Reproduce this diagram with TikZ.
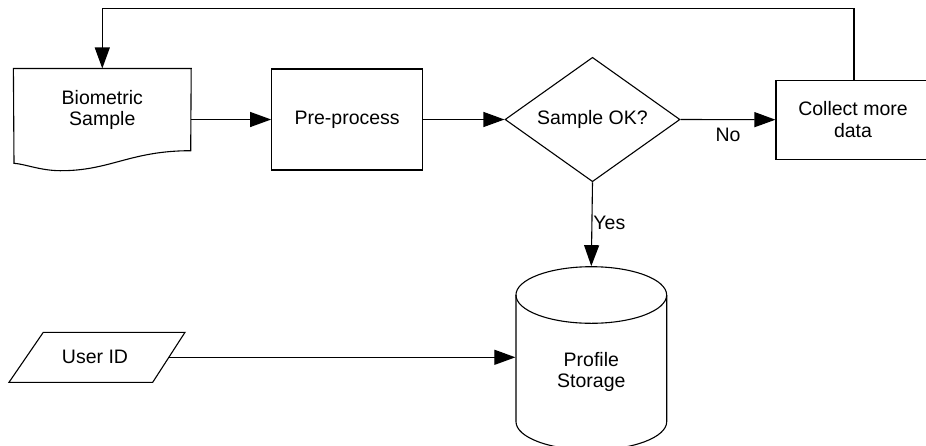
\documentclass[tikz,border=0pt]{standalone}
\usepackage{fontspec}
\setmainfont{Liberation Sans}
\usetikzlibrary{shapes.geometric,arrows.meta}
\begin{document}
\begin{tikzpicture}[x=1pt,y=-1pt,
  line width=1.1pt,
  every node/.style={font=\fontsize{19.5}{21.5}\selectfont, align=center, inner sep=0pt},
  shapebox/.style={rectangle},
  outline/.style={draw, line join=miter},
  flow/.style={-{Triangle[length=21pt,width=15pt]}},
  lbl/.style={font=\fontsize{19.5}{21.5}\selectfont}
]
\useasboundingbox (0,0) rectangle (926,445);

% Biometric Sample (document shape)
\node[shapebox, minimum width=176.7pt, minimum height=101pt] (bio) at (102.3,119.5) {};
\draw[outline] (bio.north west) -- (bio.north east) -- (190.7,150.7)
  .. controls (130,150.7) and (110,171) .. (60,170.7)
  .. controls (40,170.5) and (25,164) .. (14,163.3) -- cycle;
\node (biotxt) at (102.3,110) {Biometric\\Sample};

% Pre-process
\node[shapebox, outline, minimum width=151pt, minimum height=101pt] (pre) at (347.2,119.5) {Pre-process};

% Decision
\node[diamond, outline, aspect=1.4, minimum width=175pt, minimum height=124.4pt] (ok) at (592.5,119.5) {Sample OK?};

% Collect more data
\node[shapebox, outline, minimum width=154pt, minimum height=79.3pt] (col) at (853,119.7) {Collect more\\data};

% Profile Storage (cylinder)
\node[shapebox, minimum width=150.7pt, minimum height=182pt] (store) at (591.3,357.7) {};
\draw[outline] (591.3,295) ellipse [x radius=75.35, y radius=28.3];
\draw[outline] (516,295) -- (516,421.7)
  .. controls (516,437.3) and (549.7,450) .. (591.3,450)
  .. controls (633,450) and (666.7,437.3) .. (666.7,421.7) -- (666.7,295);
\node (storetxt) at (591.3,372) {Profile\\Storage};

% User ID (parallelogram)
\node (uid) at (95,357.3) {User ID};
\draw[outline] (43.3,332.3) -- (185,332.3) -- (152.7,382.3) -- (9,382.3) -- cycle;
\coordinate (uidE) at (168.9,357.3);

% Connectors
\draw[flow] (bio.east) -- (pre.west);
\draw[flow] (pre.east) -- (ok.west);
\draw[flow] (ok.east) -- node[pos=0.5, yshift=-15pt] {No} (col.west);
\draw[flow] (ok.south) -- node[pos=0.49, right, xshift=1pt] {Yes} (store.north);
\draw[flow] (uidE) -- (uidE -| store.west);
\draw[flow] ([xshift=1pt]col.north) |- ([yshift=60pt]bio.north) -- (bio.north);
\end{tikzpicture}
\end{document}
